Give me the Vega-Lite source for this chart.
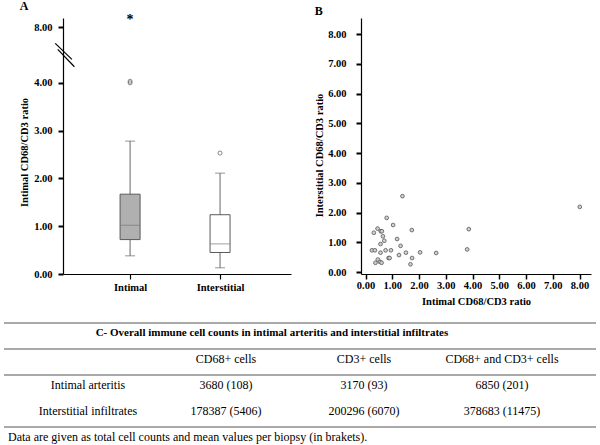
{
  "$schema": "https://vega.github.io/schema/vega-lite/v6.json",
  "padding": {"top": 0, "left": 3, "right": 0, "bottom": 0},
  "config": {
    "view": {"stroke": null},
    "font": "Liberation Serif",
    "axis": {"grid": false, "domainColor": "#000", "tickColor": "#000", "labelColor": "#000", "titleColor": "#000", "labelFont": "Liberation Serif", "titleFont": "Liberation Serif", "labelFontWeight": "bold", "titleFontWeight": "bold", "labelFontSize": 10.5, "titleFontSize": 10.5, "domainWidth": 1.2},
    "title": {"font": "Liberation Serif", "fontWeight": "bold", "fontSize": 12, "color": "#000", "anchor": "start", "frame": "bounds"},
    "text": {"font": "Liberation Serif", "color": "#000"}
  },
  "datasets": {
    "boxes": [
      {"group": "Intimal", "lower": 0.38, "q1": 0.72, "median": 1.02, "q3": 1.67, "upper": 2.78},
      {"group": "Interstitial", "lower": 0.13, "q1": 0.45, "median": 0.63, "q3": 1.24, "upper": 2.11}
    ],
    "outliers": [
      {"group": "Intimal", "ratio": 4.0},
      {"group": "Intimal", "ratio": 4.11},
      {"group": "Interstitial", "ratio": 2.53}
    ],
    "extremes": [
      {"group": "Intimal", "ratio": 8.2}
    ],
    "scatter": [
      {"intimal": 0.24, "interstitial": 0.73}, {"intimal": 0.35, "interstitial": 0.73},
      {"intimal": 0.31, "interstitial": 1.32}, {"intimal": 0.45, "interstitial": 1.46},
      {"intimal": 0.37, "interstitial": 0.31}, {"intimal": 0.46, "interstitial": 0.42},
      {"intimal": 0.54, "interstitial": 0.34}, {"intimal": 0.60, "interstitial": 0.31},
      {"intimal": 0.56, "interstitial": 0.65}, {"intimal": 0.56, "interstitial": 0.94},
      {"intimal": 0.57, "interstitial": 1.37}, {"intimal": 0.61, "interstitial": 1.37},
      {"intimal": 0.65, "interstitial": 1.20}, {"intimal": 0.70, "interstitial": 1.05},
      {"intimal": 0.75, "interstitial": 0.73}, {"intimal": 0.79, "interstitial": 1.82},
      {"intimal": 0.86, "interstitial": 0.47}, {"intimal": 0.90, "interstitial": 0.47},
      {"intimal": 0.95, "interstitial": 0.73}, {"intimal": 1.03, "interstitial": 1.58},
      {"intimal": 1.18, "interstitial": 1.11}, {"intimal": 1.25, "interstitial": 0.57},
      {"intimal": 1.31, "interstitial": 0.88}, {"intimal": 1.38, "interstitial": 2.55},
      {"intimal": 1.51, "interstitial": 0.65}, {"intimal": 1.73, "interstitial": 1.41},
      {"intimal": 1.74, "interstitial": 0.47}, {"intimal": 1.68, "interstitial": 0.26},
      {"intimal": 2.04, "interstitial": 0.66}, {"intimal": 2.64, "interstitial": 0.64},
      {"intimal": 3.80, "interstitial": 0.76}, {"intimal": 3.86, "interstitial": 1.44},
      {"intimal": 8.01, "interstitial": 2.19}
    ],
    "cells": [
      {"row": "header", "col": "CD68+ cells", "text": "CD68+ cells"},
      {"row": "header", "col": "CD3+ cells", "text": "CD3+ cells"},
      {"row": "header", "col": "CD68+ and CD3+ cells", "text": "CD68+ and CD3+ cells"},
      {"row": "Intimal arteritis", "col": "label", "text": "Intimal arteritis"},
      {"row": "Intimal arteritis", "col": "CD68+ cells", "text": "3680 (108)"},
      {"row": "Intimal arteritis", "col": "CD3+ cells", "text": "3170 (93)"},
      {"row": "Intimal arteritis", "col": "CD68+ and CD3+ cells", "text": "6850 (201)"},
      {"row": "Interstitial infiltrates", "col": "label", "text": "Interstitial infiltrates"},
      {"row": "Interstitial infiltrates", "col": "CD68+ cells", "text": "178387 (5406)"},
      {"row": "Interstitial infiltrates", "col": "CD3+ cells", "text": "200296 (6070)"},
      {"row": "Interstitial infiltrates", "col": "CD68+ and CD3+ cells", "text": "378683 (11475)"}
    ]
  },
  "vconcat": [
    {
      "hconcat": [
        {
          "width": 228,
          "height": 256,
          "title": {"text": "A", "offset": 0},
          "layer": [
            {
              "layer": [
                {
                  "data": {"name": "boxes"},
                  "mark": {"type": "rule", "color": "#666", "strokeWidth": 1},
                  "encoding": {
                    "x": {"field": "group", "type": "nominal", "scale": {"type": "point", "domain": ["Intimal", "Interstitial"], "padding": 0.767, "align": 0.486}, "axis": {"title": null, "labelAngle": 0, "tickSize": 5, "tickWidth": 1.2, "labelPadding": 3}},
                    "y": {"field": "lower", "type": "quantitative", "scale": {"domain": [0, 4, 8, 8.18], "range": [256, 64.8, 9, 0], "nice": false, "zero": false}, "axis": {"values": [0, 1, 2, 3, 4, 8], "format": ".2f", "title": "Intimal CD68/CD3 ratio", "tickSize": 5, "tickWidth": 2, "labelPadding": 6, "titlePadding": 4, "titleY": 134}},
                    "y2": {"field": "upper"}
                  }
                },
                {
                  "data": {"name": "boxes"},
                  "mark": {"type": "tick", "color": "#666", "size": 10, "thickness": 1},
                  "encoding": {
                    "x": {"field": "group", "type": "nominal"},
                    "y": {"field": "lower", "type": "quantitative"}
                  }
                },
                {
                  "data": {"name": "boxes"},
                  "mark": {"type": "tick", "color": "#666", "size": 10, "thickness": 1},
                  "encoding": {
                    "x": {"field": "group", "type": "nominal"},
                    "y": {"field": "upper", "type": "quantitative"}
                  }
                },
                {
                  "data": {"name": "boxes"},
                  "mark": {"type": "bar", "width": 20, "stroke": "#5a5a5a", "strokeWidth": 1},
                  "encoding": {
                    "x": {"field": "group", "type": "nominal"},
                    "y": {"field": "q1", "type": "quantitative"},
                    "y2": {"field": "q3"},
                    "fill": {"field": "group", "type": "nominal", "scale": {"domain": ["Intimal", "Interstitial"], "range": ["#b0b0b0", "#ffffff"]}, "legend": null}
                  }
                },
                {
                  "data": {"name": "boxes"},
                  "mark": {"type": "tick", "color": "#777", "size": 20, "thickness": 1},
                  "encoding": {
                    "x": {"field": "group", "type": "nominal"},
                    "y": {"field": "median", "type": "quantitative"}
                  }
                },
                {
                  "data": {"name": "outliers"},
                  "mark": {"type": "point", "shape": "circle", "size": 16, "filled": false, "stroke": "#444", "strokeWidth": 0.9},
                  "encoding": {
                    "x": {"field": "group", "type": "nominal"},
                    "y": {"field": "ratio", "type": "quantitative"}
                  }
                },
                {
                  "data": {"name": "extremes"},
                  "mark": {"type": "text", "text": "*", "fontSize": 14, "fontWeight": "bold", "baseline": "middle", "dy": 3},
                  "encoding": {
                    "x": {"field": "group", "type": "nominal"},
                    "y": {"field": "ratio", "type": "quantitative"}
                  }
                }
              ]
            },
            {
              "data": {"values": [{"axis": "y", "break": "4 to 8"}]},
              "layer": [
                {
                  "mark": {"type": "rule", "color": "#000", "strokeWidth": 1.2},
                  "encoding": {
                    "x": {"datum": -0.034, "type": "quantitative", "scale": {"domain": [0, 1], "nice": false, "zero": false}, "axis": null},
                    "x2": {"datum": 0.039},
                    "y": {"datum": 6.83, "type": "quantitative"},
                    "y2": {"datum": 5.68}
                  }
                },
                {
                  "mark": {"type": "rule", "color": "#000", "strokeWidth": 1.2},
                  "encoding": {
                    "x": {"datum": -0.023, "type": "quantitative", "axis": null},
                    "x2": {"datum": 0.050},
                    "y": {"datum": 6.40, "type": "quantitative"},
                    "y2": {"datum": 5.15}
                  }
                }
              ]
            }
          ],
          "resolve": {"scale": {"x": "independent"}}
        },
        {
          "width": 230,
          "height": 256,
          "title": {"text": "B", "offset": 0},
          "data": {"name": "scatter"},
          "mark": {"type": "point", "shape": "circle", "size": 14, "filled": true, "fill": "#d0d0d0", "stroke": "#555", "strokeWidth": 0.8, "opacity": 1},
          "encoding": {
            "x": {"field": "intimal", "type": "quantitative", "scale": {"domain": [-0.17, 8.43], "nice": false, "zero": false}, "axis": {"values": [0, 1, 2, 3, 4, 5, 6, 7, 8], "format": ".2f", "title": "Intimal CD68/CD3 ratio", "tickSize": 5, "tickWidth": 1.5, "labelPadding": 1, "titlePadding": 6}},
            "y": {"field": "interstitial", "type": "quantitative", "scale": {"domain": [-0.067, 8.54], "nice": false, "zero": false}, "axis": {"values": [0, 1, 2, 3, 4, 5, 6, 7, 8], "format": ".2f", "title": "Interstitial CD68/CD3 ratio", "tickSize": 5, "tickWidth": 2, "labelPadding": 10, "titlePadding": 3, "titleY": 137}}
          }
        }
      ],
      "spacing": 23
    },
    {
      "width": 533,
      "height": 130,
      "layer": [
        {
          "layer": [
            {
              "data": {"name": "cells"},
              "mark": {"type": "text", "fontSize": 12, "baseline": "middle"},
              "encoding": {
                "x": {"field": "col", "type": "nominal", "scale": {"type": "point", "domain": ["label", "CD68+ cells", "CD3+ cells", "CD68+ and CD3+ cells"], "padding": 0.431, "align": 0.21}, "axis": null},
                "y": {"field": "row", "type": "nominal", "bandPosition": 0.385, "scale": {"type": "band", "domain": ["title", "header", "Intimal arteritis", "Interstitial infiltrates", "note"], "paddingInner": 0, "paddingOuter": 0}, "axis": null},
                "text": {"field": "text"}
              }
            }
          ]
        },
        {
          "layer": [
            {
              "data": {"values": [{"above": "title"}, {"above": "header"}, {"above": "Intimal arteritis"}, {"above": "note"}]},
              "mark": {"type": "rule", "color": "#8c8c8c", "strokeWidth": 1.5},
              "encoding": {
                "x": {"datum": -0.1107, "type": "quantitative", "scale": {"domain": [0, 1], "nice": false, "zero": false}, "axis": null},
                "x2": {"datum": 1},
                "y": {"field": "above", "type": "nominal", "bandPosition": 0, "axis": null}
              }
            },
            {
              "data": {"values": [{"row": "title", "text": "C- Overall immune cell counts in intimal arteritis and interstitial infiltrates"}]},
              "mark": {"type": "text", "fontSize": 11, "fontWeight": "bold", "baseline": "middle"},
              "encoding": {
                "x": {"datum": 0.392, "type": "quantitative", "axis": null},
                "y": {"field": "row", "type": "nominal", "bandPosition": 0.385, "axis": null},
                "text": {"field": "text"}
              }
            },
            {
              "data": {"values": [{"row": "note", "text": "Data are given as total cell counts and mean values per biopsy (in brakets)."}]},
              "mark": {"type": "text", "fontSize": 12, "baseline": "middle", "align": "left"},
              "encoding": {
                "x": {"datum": -0.1032, "type": "quantitative", "axis": null},
                "y": {"field": "row", "type": "nominal", "bandPosition": 0.385, "axis": null},
                "text": {"field": "text"}
              }
            }
          ]
        }
      ],
      "resolve": {"scale": {"x": "independent"}}
    }
  ],
  "spacing": 15
}
